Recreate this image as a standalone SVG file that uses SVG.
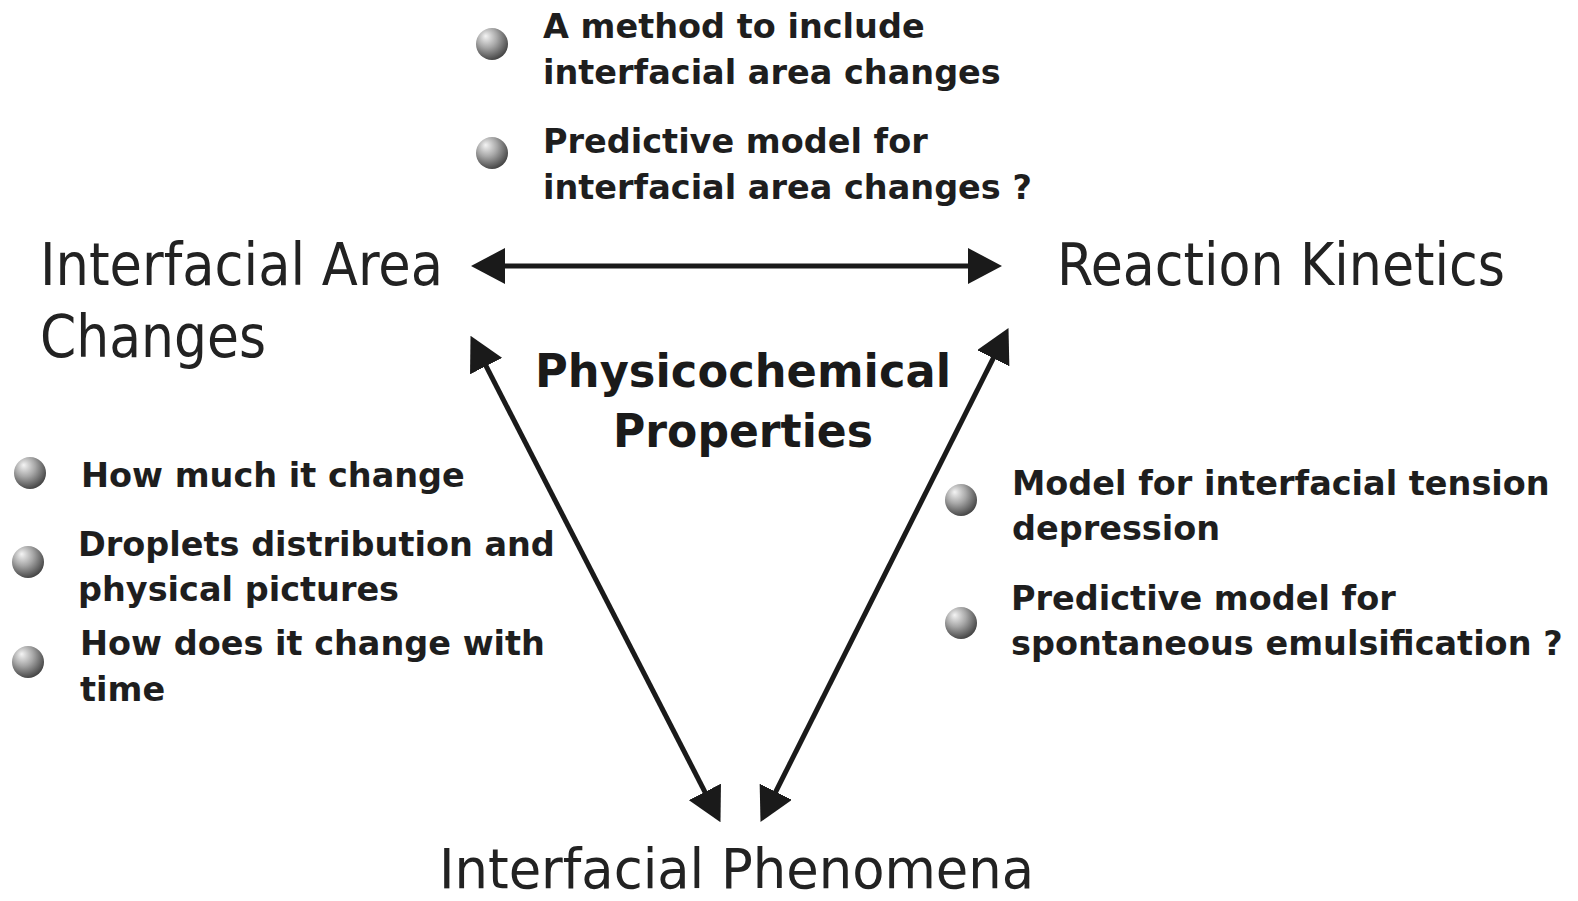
<svg xmlns="http://www.w3.org/2000/svg" width="1578" height="901" viewBox="0 0 1578 901">
<defs>
<radialGradient id="ball" cx="0.4" cy="0.35" r="0.7" fx="0.3" fy="0.25">
<stop offset="0" stop-color="#f4f4f4"/>
<stop offset="0.45" stop-color="#a8a8a8"/>
<stop offset="1" stop-color="#3c3c3c"/>
</radialGradient>
<marker id="head" viewBox="0 0 34 36" refX="1" refY="18" markerWidth="34" markerHeight="36" markerUnits="userSpaceOnUse" orient="auto-start-reverse">
<path d="M0,0 L34,18 L0,36 z" fill="#1a1a1a"/>
</marker>
</defs>
<style>
.big{font-family:"DejaVu Sans Condensed","DejaVu Sans",sans-serif;font-size:58px;fill:#222}
.b{font-family:"DejaVu Sans","Verdana",sans-serif;font-weight:bold;font-size:33.5px;fill:#1e1e1e}
.center{font-family:"DejaVu Sans",sans-serif;font-weight:bold;font-size:47px;fill:#1a1a1a}
.arrow{stroke:#1a1a1a;stroke-width:5;fill:none}
</style>
<rect width="1578" height="901" fill="#ffffff"/>
<g id="connectors">
<line class="arrow" x1="504" y1="266" x2="969" y2="266" marker-start="url(#head)" marker-end="url(#head)"/>
<line class="arrow" x1="485.6" y1="365.2" x2="705.4" y2="792.8" marker-start="url(#head)" marker-end="url(#head)"/>
<line class="arrow" x1="993.7" y1="357.4" x2="775.3" y2="792.6" marker-start="url(#head)" marker-end="url(#head)"/>
</g>
<g id="node-interfacial-area">
<text class="big" x="40" y="285" textLength="403" lengthAdjust="spacingAndGlyphs">Interfacial Area</text>
<text class="big" x="40" y="357" textLength="226" lengthAdjust="spacingAndGlyphs">Changes</text>
</g>
<g id="node-reaction-kinetics">
<text class="big" x="1057" y="285" textLength="448" lengthAdjust="spacingAndGlyphs">Reaction Kinetics</text>
</g>
<g id="node-interfacial-phenomena">
<text class="big" x="439" y="888" style="font-size:56px" textLength="595" lengthAdjust="spacingAndGlyphs">Interfacial Phenomena</text>
</g>
<g id="node-physicochemical">
<text class="center" x="743" y="387" text-anchor="middle" textLength="416" lengthAdjust="spacingAndGlyphs">Physicochemical</text>
<text class="center" x="743" y="447" text-anchor="middle" textLength="260" lengthAdjust="spacingAndGlyphs">Properties</text>
</g>
<g id="notes-top">
<circle cx="492" cy="44" r="16" fill="url(#ball)"/>
<text class="b" x="543" y="38">A method to include</text>
<text class="b" x="543" y="84">interfacial area changes</text>
<circle cx="492" cy="153" r="16" fill="url(#ball)"/>
<text class="b" x="543" y="153">Predictive model for</text>
<text class="b" x="543" y="199">interfacial area changes ?</text>
</g>
<g id="notes-left">
<circle cx="30" cy="473" r="16" fill="url(#ball)"/>
<text class="b" x="81" y="487">How much it change</text>
<circle cx="28" cy="562" r="16" fill="url(#ball)"/>
<text class="b" x="78" y="556">Droplets distribution and</text>
<text class="b" x="78" y="601">physical pictures</text>
<circle cx="28" cy="662" r="16" fill="url(#ball)"/>
<text class="b" x="80" y="655">How does it change with</text>
<text class="b" x="80" y="701">time</text>
</g>
<g id="notes-right">
<circle cx="961" cy="500" r="16" fill="url(#ball)"/>
<text class="b" x="1012" y="495">Model for interfacial tension</text>
<text class="b" x="1012" y="540">depression</text>
<circle cx="961" cy="623" r="16" fill="url(#ball)"/>
<text class="b" x="1011" y="610">Predictive model for</text>
<text class="b" x="1011" y="655">spontaneous emulsification ?</text>
</g>
</svg>
